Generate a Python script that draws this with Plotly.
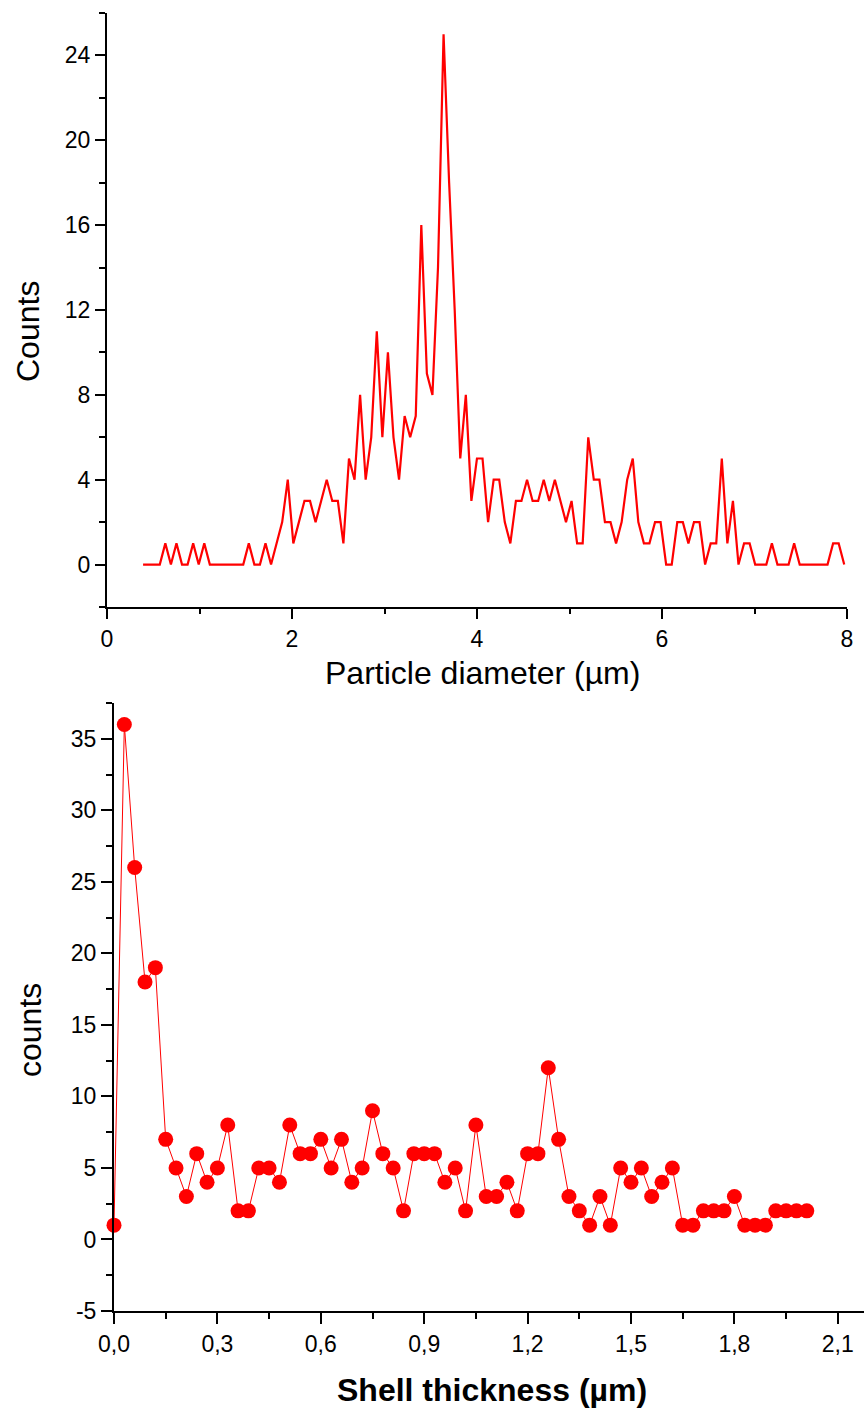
import numpy as np
import plotly.graph_objects as go

# ---------------- data ----------------
# Top panel: particle diameter histogram (bin centres, µm) and counts
diam_first = 0.39
diam_last = 7.97
diam_counts = [
    0, 0, 0, 0, 1, 0, 1, 0, 0, 1, 0, 1, 0, 0, 0, 0, 0, 0, 0, 1,
    0, 0, 1, 0, 1, 2, 4, 1, 2, 3, 3, 2, 3, 4, 3, 3, 1, 5, 4, 8,
    4, 6, 11, 6, 10, 6, 4, 7, 6, 7, 16, 9, 8, 14, 25, 18, 12, 5, 8, 3,
    5, 5, 2, 4, 4, 2, 1, 3, 3, 4, 3, 3, 4, 3, 4, 3, 2, 3, 1, 1,
    6, 4, 4, 2, 2, 1, 2, 4, 5, 2, 1, 1, 2, 2, 0, 0, 2, 2, 1, 2,
    2, 0, 1, 1, 5, 1, 3, 0, 1, 1, 0, 0, 0, 1, 0, 0, 0, 1, 0, 0,
    0, 0, 0, 0, 1, 1, 0,
]
diam_x = np.linspace(diam_first, diam_last, len(diam_counts))

# Bottom panel: shell thickness (µm) and counts
shell_x = [round(0.03 * k, 2) for k in range(68)]
shell_counts = [
    1, 36, 26, 18, 19, 7, 5, 3, 6, 4, 5, 8, 2, 2, 5, 5, 4, 8, 6, 6,
    7, 5, 7, 4, 5, 9, 6, 5, 2, 6, 6, 6, 4, 5, 2, 8, 3, 3, 4, 2,
    6, 6, 12, 7, 3, 2, 1, 3, 1, 5, 4, 5, 3, 4, 5, 1, 1, 2, 2, 2,
    3, 1, 1, 1, 2, 2, 2, 2,
]

top_xticks = [0, 2, 4, 6, 8]
top_yticks = [0, 4, 8, 12, 16, 20, 24]
bot_xticks = [0.0, 0.3, 0.6, 0.9, 1.2, 1.5, 1.8, 2.1]
bot_xticktext = ["0,0", "0,3", "0,6", "0,9", "1,2", "1,5", "1,8", "2,1"]
bot_yticks = [-5, 0, 5, 10, 15, 20, 25, 30, 35]
bot_yticktext = ["-5", "0", "5", "10", "15", "20", "25", "30", "35"]

# ---------------- figure ----------------
W, H = 864, 1412
FONT = "Liberation Sans, Arial, Helvetica, sans-serif"
RED = "#ff0000"


def px(x):
    return x / W


def py(y):
    return 1 - y / H


fig = go.Figure()

fig.add_trace(go.Scatter(
    x=diam_x, y=diam_counts, mode="lines",
    line=dict(color=RED, width=2.2),
    xaxis="x", yaxis="y", showlegend=False,
))

fig.add_trace(go.Scatter(
    x=shell_x, y=shell_counts, mode="lines+markers",
    line=dict(color=RED, width=1),
    marker=dict(color=RED, size=15, line=dict(width=0)),
    xaxis="x2", yaxis="y2", showlegend=False, cliponaxis=False,
))

axis_common = dict(
    showline=True, linecolor="black", linewidth=2,
    ticks="outside", tickcolor="black", tickwidth=2,
    showgrid=False, zeroline=False, mirror=False, automargin=False,
    tickfont=dict(family=FONT, size=23, color="black"),
)

fig.update_layout(
    template="none",
    width=W, height=H,
    margin=dict(l=0, r=0, t=0, b=0, pad=0, autoexpand=False),
    paper_bgcolor="white", plot_bgcolor="white",
    xaxis=dict(
        domain=[px(107), px(847)], range=[0, 8], anchor="y",
        tickvals=top_xticks, ticklen=10,
        minor=dict(dtick=1, tick0=0, ticklen=5, ticks="outside",
                   tickcolor="black", tickwidth=2),
        **axis_common,
    ),
    yaxis=dict(
        domain=[py(607), py(13)], range=[-2, 26], anchor="x",
        tickvals=top_yticks, ticklen=10,
        minor=dict(dtick=2, tick0=0, ticklen=6, ticks="outside",
                   tickcolor="black", tickwidth=2),
        **axis_common,
    ),
    xaxis2=dict(
        domain=[px(114), 1.0], range=[0, 2.176], anchor="y2",
        tickvals=bot_xticks, ticktext=bot_xticktext, ticklen=11,
        minor=dict(dtick=0.15, tick0=0, ticklen=6, ticks="outside",
                   tickcolor="black", tickwidth=2),
        **axis_common,
    ),
    yaxis2=dict(
        domain=[py(1311), py(703)], range=[-5, 37.5], anchor="x2",
        tickvals=bot_yticks, ticktext=bot_yticktext, ticklen=11,
        minor=dict(dtick=2.5, tick0=0, ticklen=6, ticks="outside",
                   tickcolor="black", tickwidth=2),
        **axis_common,
    ),
    annotations=[
        dict(text="Counts", x=px(28), y=py(332), xref="paper", yref="paper",
             textangle=-90, showarrow=False, xanchor="center", yanchor="middle",
             font=dict(family=FONT, size=32, color="black")),
        dict(text="Particle diameter (µm)", x=px(482), y=py(673),
             xref="paper", yref="paper", showarrow=False,
             xanchor="center", yanchor="middle",
             font=dict(family=FONT, size=32, color="black")),
        dict(text="counts", x=px(30), y=py(1030), xref="paper", yref="paper",
             textangle=-90, showarrow=False, xanchor="center", yanchor="middle",
             font=dict(family=FONT, size=32, color="black")),
        dict(text="<b>Shell thickness (µm)</b>", x=px(492), y=py(1390),
             xref="paper", yref="paper", showarrow=False,
             xanchor="center", yanchor="middle",
             font=dict(family=FONT, size=32, color="black")),
    ],
)

fig.write_html("out.html")
